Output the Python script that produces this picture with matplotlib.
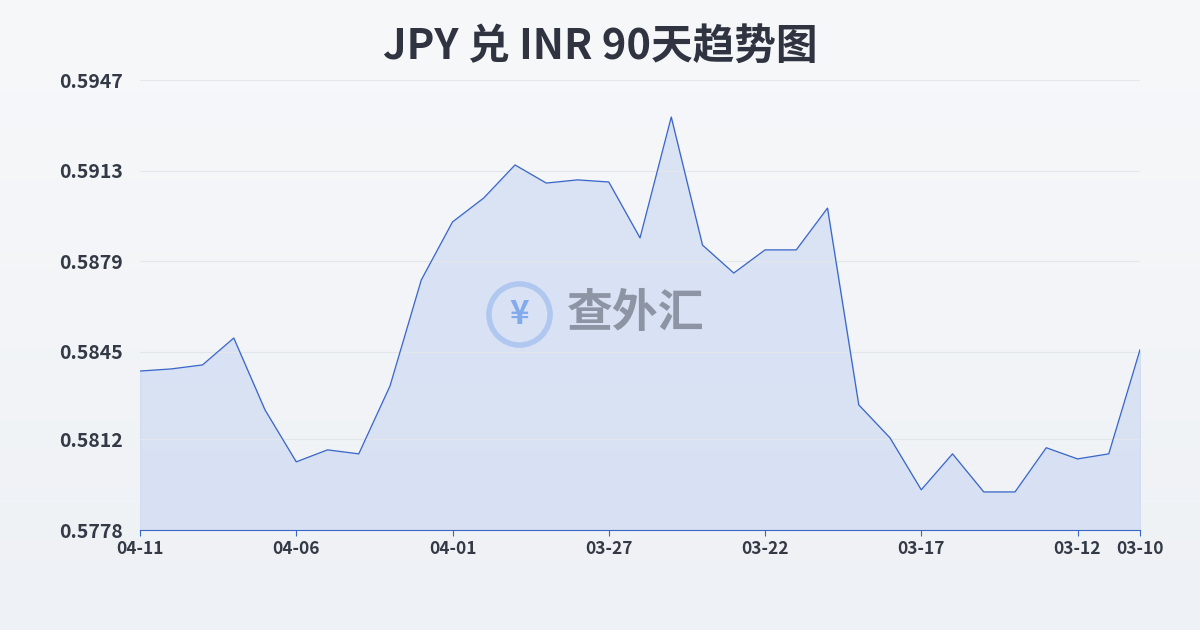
import matplotlib.pyplot as plt
import numpy as np

plt.rcParams['font.family'] = ['Noto Sans CJK SC', 'DejaVu Sans']

DATES = ["04-11", "04-10", "04-09", "04-08", "04-07", "04-06", "04-05", "04-04", "04-03", "04-02",
         "04-01", "03-31", "03-30", "03-29", "03-28", "03-27", "03-26", "03-25", "03-24", "03-23",
         "03-22", "03-21", "03-20", "03-19", "03-18", "03-17", "03-16", "03-15", "03-14", "03-13",
         "03-12", "03-11", "03-10"]
RATES = [0.58377, 0.58385, 0.58400, 0.58501, 0.58231, 0.58036, 0.58081, 0.58066, 0.58321, 0.58719,
         0.58937, 0.59027, 0.59151, 0.59083, 0.59095, 0.59087, 0.58877, 0.59331, 0.58850, 0.58745,
         0.58832, 0.58832, 0.58989, 0.58250, 0.58126, 0.57931, 0.58066, 0.57923, 0.57923, 0.58089,
         0.58047, 0.58066, 0.58457]
YTICKS = [0.5778, 0.5812, 0.5845, 0.5879, 0.5913, 0.5947]
XTICK_IDX = [0, 5, 10, 15, 20, 25, 30, 32]

fig = plt.figure(figsize=(12, 6.3), dpi=100)
bg = fig.add_axes([0, 0, 1, 1], zorder=-10)
grad = np.linspace(0, 1, 256).reshape(-1, 1)
bg.imshow(grad, aspect='auto', cmap=plt.matplotlib.colors.LinearSegmentedColormap.from_list(
    'g', ['#f7f8fa', '#eef1f5']), extent=[0, 1, 0, 1])
bg.set_xlim(0, 1)
bg.set_ylim(0, 1)
bg.axis('off')

ax = fig.add_axes([140/1200, 100/630, 1000/1200, 450/630])
ax.set_facecolor('none')
x = np.arange(len(RATES))
ax.plot(x, RATES, color='#3a66c8', lw=0.9)
ax.fill_between(x, RATES, YTICKS[0], color='#c9d7f2', alpha=0.6)
ax.set_xlim(0, len(RATES) - 1)
ax.set_ylim(YTICKS[0], YTICKS[-1])
ax.set_yticks(YTICKS)
ax.set_yticklabels([f"{v:.4f}" for v in YTICKS])
ax.set_xticks(XTICK_IDX)
ax.set_xticklabels([DATES[i] for i in XTICK_IDX])
ax.grid(axis='y', color='#e3e6ea', lw=0.8)
for s in ['top', 'right', 'left']:
    ax.spines[s].set_visible(False)
ax.spines['bottom'].set_color('#3a66c8')
ax.tick_params(axis='y', length=0, pad=12, labelsize=14, labelcolor='#333a45')
ax.tick_params(axis='x', length=4, color='#3a66c8', labelsize=12.5, labelcolor='#333a45')
for t in ax.get_yticklabels() + ax.get_xticklabels():
    t.set_fontweight('bold')

fig.text(0.5, 0.925, "JPY 兑 INR 90天趋势图", ha='center', va='center',
         fontsize=30, fontweight='bold', color='#2f3440')
# watermark icon: ring drawn as a marker so it stays round
bg.plot([519/1200], [1 - 314/630], marker='o', ms=44, mfc='none', mec='#7aa5ec',
        mew=4, alpha=0.85, zorder=5)
fig.text(519/1200, 1 - 314/630, "¥", ha='center', va='center', fontsize=24,
         fontweight='bold', color='#7aa5ec', alpha=0.9)
fig.text(636/1200, 1 - 314/630, "查外汇", ha='center', va='center', fontsize=33,
         fontweight='bold', color='#5b6370', alpha=0.6)

fig.savefig("out.png", dpi=100)
